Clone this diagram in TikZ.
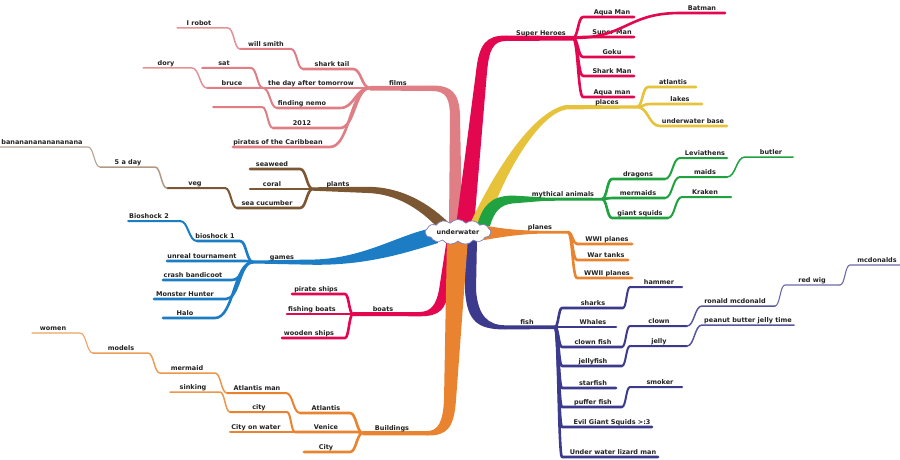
\documentclass[tikz,border=0pt]{standalone}
\usepackage{fontspec}
\setmainfont{DejaVu Sans}
\usetikzlibrary{calc,shapes.symbols}
\definecolor{pinkC}{HTML}{E07E86}
\definecolor{crimC}{HTML}{E2074F}
\definecolor{goldC}{HTML}{E6C33A}
\definecolor{greenC}{HTML}{1FA23F}
\definecolor{orangeC}{HTML}{E9832F}
\definecolor{navyC}{HTML}{3B3A8D}
\definecolor{brownC}{HTML}{7C5734}
\definecolor{blueC}{HTML}{1C7DC5}
\definecolor{txtC}{HTML}{222222}
\definecolor{cloudC}{HTML}{7C7CB8}
\tikzset{
  lbl/.style={font=\bfseries\fontsize{6.5}{7}\selectfont, text=txtC, inner xsep=0pt, inner ysep=1pt,
              text height=4.9pt, text depth=1.4pt, anchor=south},
  sc/.style={to path={let \p1=(\tikztostart), \p2=(\tikztotarget) in
             .. controls ({(\x1+\x2)/2},\y1) and ({(\x1+\x2)/2},\y2) .. (\tikztotarget)}},
  l2/.style={line width=2.6pt, line cap=round, line join=round},
  l3/.style={line width=2pt, line cap=round, line join=round},
  l4/.style={line width=1.5pt, line cap=round, line join=round},
  l5/.style={line width=1.1pt, line cap=round, line join=round},
}
% main topic: coordinates and label only (its line is part of the trunk)
\newcommand{\tpM}[6]{\coordinate (#1-l) at (#2,#4); \coordinate (#1-r) at (#3,#4);
  \node[lbl] (#1) at (#5,#4) {#6};}
% child on the left of its parent
\newcommand{\tpL}[8][]{\coordinate (#2-l) at (#3,#5); \coordinate (#2-r) at (#4,#5);
  \draw[#1] (#8-l) to[sc] (#2-r) -- (#2-l);
  \node[lbl] (#2) at (#6,#5) {#7};}
% child on the right of its parent
\newcommand{\tpR}[8][]{\coordinate (#2-l) at (#3,#5); \coordinate (#2-r) at (#4,#5);
  \draw[#1] (#8-r) to[sc] (#2-l) -- (#2-r);
  \node[lbl] (#2) at (#6,#5) {#7};}
\begin{document}
\begin{tikzpicture}[x=1pt,y=-1pt]
\useasboundingbox (0,0) rectangle (900,460);
\fill[white] (0,0) rectangle (900,460);
% ---- trunks ----
\fill[pinkC] (370,86) -- (432,85.5) .. controls (452,85.5) and (459,93) .. (460,115) -- (462,226)
  -- (449,226) -- (450,118) .. controls (450,98) and (446,91) .. (432,91) -- (370,90.5) -- cycle;
\fill[crimC] (456,226) -- (476,72) .. controls (479,44) and (486,35.5) .. (506,35.5) -- (573,36)
  -- (573,40.5) -- (506,41) .. controls (493,41) and (489,50) .. (487,72) -- (474,226) -- cycle;
\fill[goldC] (469,226) .. controls (490,180) and (530,112) .. (566,105) -- (637,105.5)
  -- (637,108.5) -- (566,109.5) .. controls (540,114) and (505,170) .. (487,226) -- cycle;
\fill[greenC] (477,226) .. controls (482,207) and (490,196) .. (512,195.5) -- (545,197.5) -- (602,197.8)
  -- (602,200.5) -- (545,200.8) -- (512,203.5) .. controls (500,205) and (494,212) .. (490,226) -- cycle;
\fill[orangeC] (484,225.5) .. controls (505,229) and (520,230.8) .. (545,230.8) -- (568,231)
  -- (568,233.5) -- (545,233.5) .. controls (520,234) and (505,236.5) .. (484,240) -- cycle;
\fill[navyC] (463,238) -- (465,290) .. controls (467,322) and (478,329.3) .. (505,329.5) -- (555,329)
  -- (555,325.5) -- (505,325.3) .. controls (488,325) and (478,316) .. (476,290) -- (477,238) -- cycle;
\fill[crimC] (460,238) -- (449,290) .. controls (446,309) and (440,316.3) .. (420,316.3) -- (353,316)
  -- (353,312) -- (420,312) .. controls (431,311.5) and (436,305) .. (439,290) -- (447,238) -- cycle;
\fill[orangeC] (468,238) -- (456,400) .. controls (454,428) and (447,435.5) .. (428,435.5) -- (363,435.3)
  -- (363,431) -- (428,431) .. controls (438,430.5) and (443,422) .. (444,400) -- (447,238) -- cycle;
\fill[blueC] (433,228) .. controls (400,234) and (365,258) .. (315,259.5) -- (253,260.5)
  -- (253,263.5) -- (315,264.8) .. controls (368,265) and (405,253) .. (438,243) -- cycle;
\fill[brownC] (313,187.3) -- (368,186.8) .. controls (398,187) and (425,200) .. (448,222)
  -- (438,228) .. controls (418,207) and (395,194) .. (368,193) -- (313,190.7) -- cycle;
% ---- centre ----
\node[cloud, cloud puffs=13, cloud puff arc=100, aspect=3.2, draw=cloudC, fill=white, line width=0.7pt,
      inner sep=0pt, minimum width=66pt, minimum height=22pt,
      font=\bfseries\fontsize{6.5}{7}\selectfont, text=txtC] (uw) at (458,232) {underwater};
% ---- films ----
\tpM{films}{370}{440}{88}{398}{films}
\tpL[pinkC,l2]{sharktail}{303}{353}{69}{332}{shark tail}{films}
\tpL[pinkC,l2]{dayafter}{263}{362}{88}{311}{the day after tomorrow}{films}
\tpL[pinkC,l2]{nemo}{277}{340}{108}{302}{finding nemo}{films}
\tpL[pinkC,l2]{ntwelve}{273}{340}{128}{302}{2012}{films}
\tpL[pinkC,l2]{pirates}{233}{330}{147}{278}{pirates of the Caribbean}{films}
\tpL[pinkC,l3]{willsmith}{240}{291}{49}{266}{will smith}{sharktail}
\tpL[pinkC!85,l4]{irobot}{177}{228}{28}{199}{I robot}{willsmith}
\tpL[pinkC,l3]{sat}{202}{251}{68}{224}{sat}{dayafter}
\tpL[pinkC,l3]{bruce}{207}{263}{88}{232}{bruce}{nemo}
\tpL[pinkC!85,l4]{dory}{143}{192}{68}{166}{dory}{bruce}
\tpL[pinkC,l3]{blank}{213}{262}{107}{238}{}{ntwelve}
% ---- super heroes ----
\tpM{sh}{493}{573}{38}{541}{Super Heroes}
\tpR[crimC,l2]{aquaman}{583}{634}{17}{612}{Aqua Man}{sh}
\tpR[crimC,l2]{superman}{583}{634}{37}{612}{Super Man}{sh}
\tpR[crimC,l2]{goku}{583}{634}{57}{612}{Goku}{sh}
\tpR[crimC,l2]{sharkman}{583}{634}{76}{612}{Shark Man}{sh}
\tpR[crimC,l2]{aquamanb}{583}{634}{97}{612}{Aqua man}{sh}
\tpR[crimC,l2]{batman}{680}{725}{13}{702}{Batman}{sh}
% ---- places ----
\tpM{places}{570}{637}{107}{607}{places}
\tpR[goldC,l2]{atlantis}{648}{696}{87}{673}{atlantis}{places}
\tpR[goldC,l2]{lakes}{650}{702}{104}{680}{lakes}{places}
\tpR[goldC,l2]{uwbase}{660}{727}{126}{693}{underwater base}{places}
% ---- mythical animals ----
\tpM{myth}{493}{602}{199}{563}{mythical animals}
\tpR[greenC,l2]{dragons}{612}{665}{179}{638}{dragons}{myth}
\tpR[greenC,l2]{mermaids}{612}{665}{198}{638}{mermaids}{myth}
\tpR[greenC,l2]{squids}{612}{668}{218}{640}{giant squids}{myth}
\tpR[greenC,l3]{leviathens}{680}{727}{158}{705}{Leviathens}{dragons}
\tpR[greenC,l3]{maids}{680}{727}{177}{705}{maids}{mermaids}
\tpR[greenC,l3]{kraken}{682}{731}{197}{705}{Kraken}{squids}
\tpR[greenC,l4]{butler}{745}{793}{157}{771}{butler}{maids}
% ---- planes ----
\tpM{planes}{493}{568}{232}{540}{planes}
\tpR[orangeC,l2]{wwi}{577}{632}{244}{607}{WWI planes}{planes}
\tpR[orangeC,l2]{wartanks}{577}{628}{260}{606}{War tanks}{planes}
\tpR[orangeC,l2]{wwii}{577}{632}{278}{607}{WWII planes}{planes}
% ---- fish ----
\tpM{fish}{500}{555}{327}{527}{fish}
\tpR[navyC,l2]{sharks}{562}{623}{308}{593}{sharks}{fish}
\tpR[navyC,l2]{whales}{562}{616}{327}{593}{Whales}{fish}
\tpR[navyC,l2]{clownfish}{562}{622}{347}{593}{clown fish}{fish}
\tpR[navyC,l2]{jellyfish}{562}{622}{366}{593}{jellyfish}{fish}
\tpR[navyC,l2]{starfish}{562}{616}{388}{593}{starfish}{fish}
\tpR[navyC,l2]{puffer}{562}{622}{407}{593}{puffer fish}{fish}
\tpR[navyC,l2]{evil}{562}{652}{427}{612}{Evil Giant Squids >:3}{fish}
\tpR[navyC,l2]{lizard}{562}{658}{457}{613}{Under water lizard man}{fish}
\tpR[navyC,l3]{hammer}{630}{682}{287}{659}{hammer}{sharks}
\tpR[navyC,l3]{clown}{630}{687}{326}{659}{clown}{clownfish}
\tpR[navyC,l3]{jelly}{630}{687}{346}{659}{jelly}{jellyfish}
\tpR[navyC,l3]{smoker}{630}{682}{387}{660}{smoker}{puffer}
\tpR[navyC!85,l4]{ronald}{702}{775}{306}{735}{ronald mcdonald}{clown}
\tpR[navyC!85,l4]{pbj}{702}{794}{325}{748}{peanut butter jelly time}{jelly}
\tpR[navyC!75,l5]{redwig}{785}{840}{285}{812}{red wig}{ronald}
\tpR[navyC!75,l5]{mcd}{850}{900}{265}{877}{mcdonalds}{redwig}
% ---- plants ----
\tpM{plants}{313}{370}{189}{338}{plants}
\tpL[brownC,l2]{seaweed}{250}{300}{169}{272}{seaweed}{plants}
\tpL[brownC,l2]{coral}{250}{306}{189}{272}{coral}{plants}
\tpL[brownC,l2]{seacuc}{237}{300}{208}{267}{sea cucumber}{plants}
\tpL[brownC,l3]{veg}{167}{225}{188}{195}{veg}{seacuc}
\tpL[brownC!60,l4]{fiveaday}{100}{155}{167}{128}{5 a day}{veg}
\tpL[brownC!55,l5]{banana}{0}{88}{147}{42}{banananananananana}{fiveaday}
% ---- games ----
\tpM{games}{253}{315}{262}{282}{games}
\tpL[blueC,l2]{bioshockone}{197}{240}{241}{215}{bioshock 1}{games}
\tpL[blueC,l2]{unreal}{167}{246}{261}{202}{unreal tournament}{games}
\tpL[blueC,l2]{crash}{163}{232}{280}{193}{crash bandicoot}{games}
\tpL[blueC,l2]{monster}{154}{226}{299}{185}{Monster Hunter}{games}
\tpL[blueC,l2]{halo}{163}{215}{318}{185}{Halo}{games}
\tpL[blueC,l3]{bioshocktwo}{128}{180}{221}{149}{Bioshock 2}{bioshockone}
% ---- boats ----
\tpM{boats}{353}{420}{314}{383}{boats}
\tpL[crimC,l2]{pirateships}{292}{345}{294}{316}{pirate ships}{boats}
\tpL[crimC,l2]{fishing}{287}{347}{314}{312}{fishing boats}{boats}
\tpL[crimC,l2]{wooden}{282}{345}{338}{309}{wooden ships}{boats}
% ---- buildings ----
\tpM{buildings}{363}{430}{433}{392}{Buildings}
\tpL[orangeC,l2]{atlantisb}{300}{350}{413}{326}{Atlantis}{buildings}
\tpL[orangeC,l2]{venice}{295}{357}{432}{326}{Venice}{buildings}
\tpL[orangeC,l2]{city}{304}{350}{452}{326}{City}{buildings}
\tpL[orangeC,l3]{atlman}{227}{286}{393}{257}{Atlantis man}{atlantisb}
\tpL[orangeC,l3]{citysmall}{230}{287}{412}{259}{city}{venice}
\tpL[orangeC,l3]{cityonwater}{230}{290}{432}{256}{City on water}{venice}
\tpL[orangeC!85,l4]{mermaid}{160}{215}{373}{187}{mermaid}{atlman}
\tpL[orangeC!85,l4]{sinking}{170}{220}{392}{193}{sinking}{citysmall}
\tpL[orangeC!80,l4]{models}{93}{148}{353}{121}{models}{mermaid}
\tpL[orangeC!75,l5]{women}{32}{80}{333}{53}{women}{models}
\end{tikzpicture}
\end{document}
